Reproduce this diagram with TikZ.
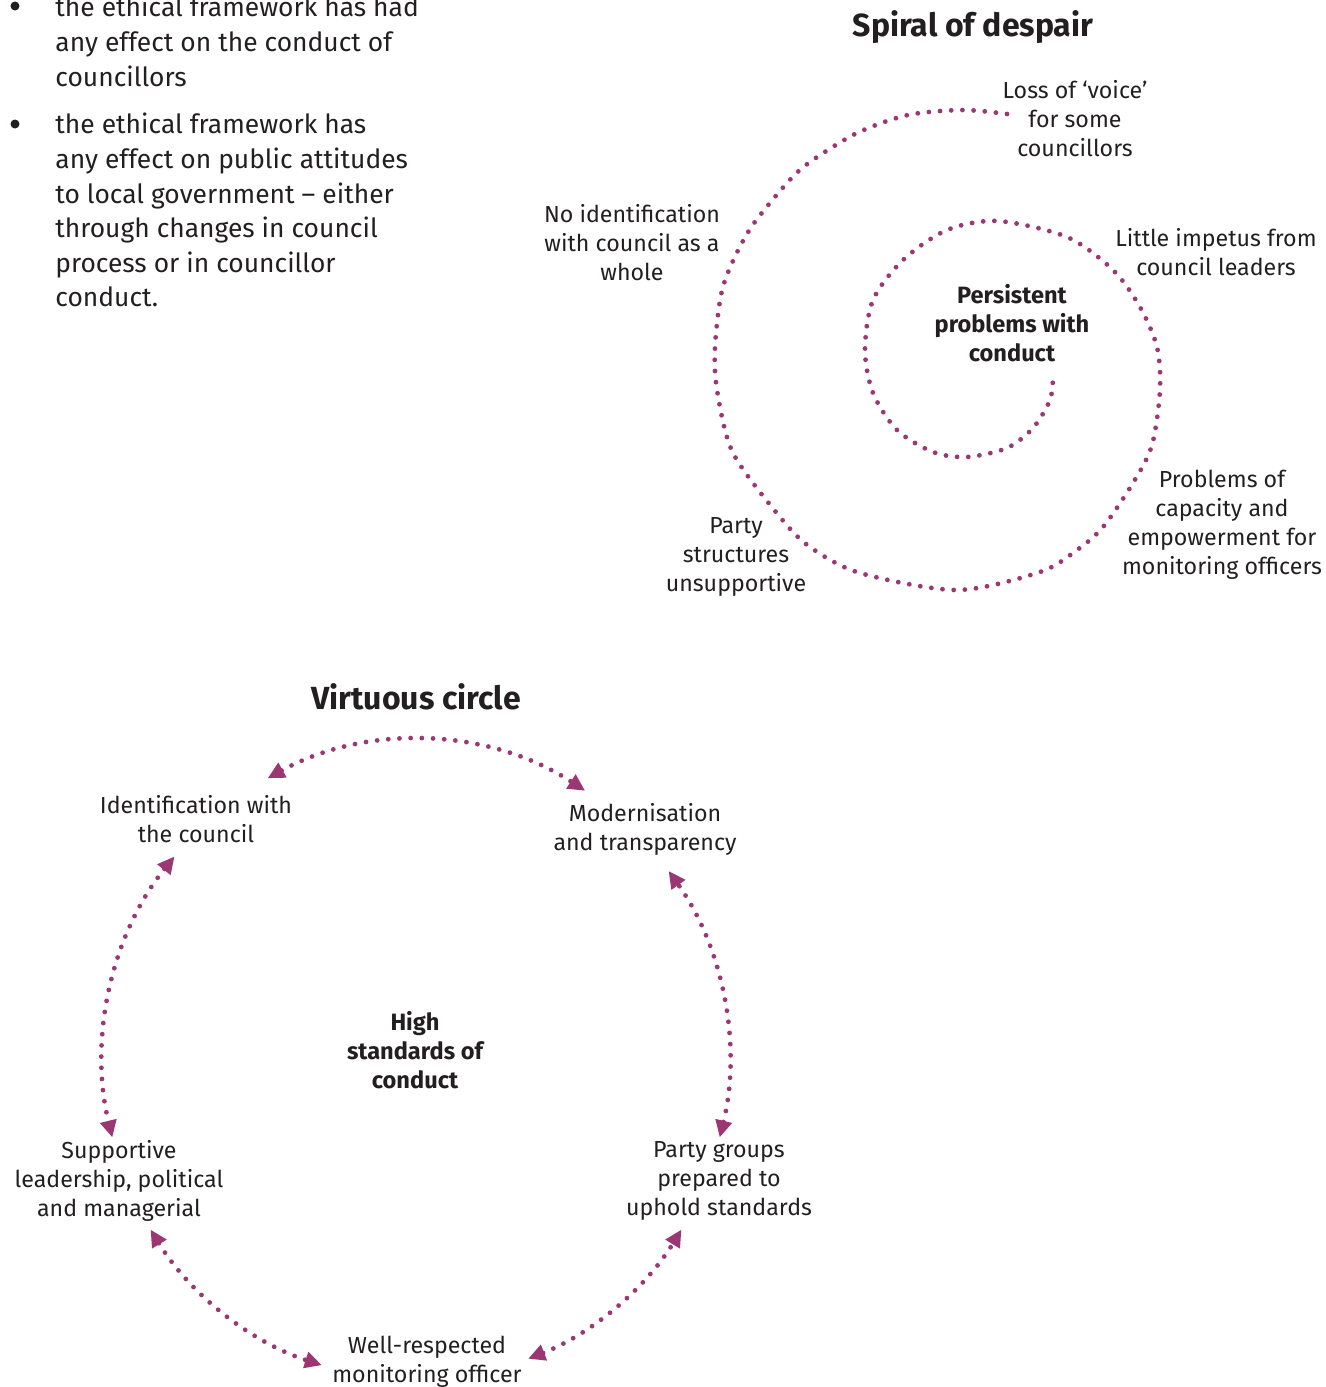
\documentclass[tikz,border=0pt]{standalone}
\usepackage{fontspec}
\setmainfont{Fira Sans}
\usepackage{xcolor}
\usepackage{tikz}
\usetikzlibrary{arrows.meta,calc}

\definecolor{plum}{RGB}{155,55,115}
\definecolor{ink}{RGB}{35,31,32}

\begin{document}
\begin{tikzpicture}[
  x=0.5pt, y=0.5pt,
  lbl/.style={align=center, text=ink, font=\fontsize{11.6}{14.5}\selectfont, inner sep=0pt},
  core/.style={lbl, font=\fontsize{11.8}{14.5}\selectfont\bfseries},
  heading/.style={text=ink, font=\fontsize{16}{18}\selectfont\bfseries, inner sep=0pt},
  para/.style={align=left, text=ink, font=\fontsize{13.2}{17.3}\selectfont, anchor=north west, inner sep=0pt},
  dots/.style={draw=plum, line width=2.4pt, line cap=round, dash pattern=on 0pt off 5.6pt},
  link/.style={dots, {Triangle[length=8.5pt,width=8pt,fill=plum]}-{Triangle[length=8.5pt,width=8pt,fill=plum]}}
]
\useasboundingbox (0,0) rectangle (1326,-1387);

% Bullet points
\fill[ink] (15,-6) circle[radius=4.5];
\fill[ink] (15,-124) circle[radius=4.5];
\node[para] (pointA) at (55,4) {the ethical framework has had\\any effect on the conduct of\\councillors};
\node[para] (pointB) at (55,-113) {the ethical framework has\\any effect on public attitudes\\to local government -- either\\through changes in council\\process or in councillor\\conduct.};

% Spiral of despair
\node[heading] (spiralT) at (973,-27) {Spiral of despair};
\node[lbl] (voice) at (1075,-119) {Loss of ‘voice’\\for some\\councillors};
\node[lbl] (ident) at (632,-243) {No identification\\with council as a\\whole};
\node[lbl] (impetus) at (1216,-252) {Little impetus from\\council leaders};
\node[core] (persist) at (1012,-323) {Persistent\\problems with\\conduct};
\node[lbl] (capacity) at (1222,-525) {Problems of\\capacity and\\empowerment for\\monitoring officers};
\node[lbl] (party) at (736,-557) {Party\\structures\\unsupportive};

\draw[dots] plot[smooth] coordinates {
  (1007,-114) (963,-110) (908,-115) (857,-133) (810,-162) (787,-183)
  (752,-226) (732,-263) (721,-295) (715,-347) (717,-390) (733,-453)
  (780,-517) (810,-547) (860,-573) (957,-590) (1040,-572) (1077,-550)
  (1103,-527) (1133,-483) (1152,-445) (1160,-390) (1157,-347) (1140,-307)
  (1113,-270) (1067,-237) (998,-221) (947,-230) (903,-260) (873,-300)
  (865,-350) (873,-393) (897,-430) (933,-452) (967,-457) (1007,-448)
  (1033,-428) (1050,-400) (1053,-377)};

% Virtuous circle
\node[heading] (virtT) at (416,-697) {Virtuous circle};
\node[lbl] (council) at (196,-819) {Identification with\\the council};
\node[lbl] (modern) at (645,-829) {Modernisation\\and transparency};
\node[core] (high) at (415,-1050) {High\\standards of\\conduct};
\node[lbl] (leader) at (119,-1181) {Supportive\\leadership, political\\and managerial};
\node[lbl] (groups) at (719,-1181) {Party groups\\prepared to\\uphold standards};
\node[lbl] (officer) at (427,-1362) {Well-respected\\monitoring officer};

\coordinate (ring) at (416,-1060);
\coordinate (council-a) at ($(ring)+(118.3:313 and 320)$);
\coordinate (council-b) at ($(ring)+(140.5:313 and 320)$);
\coordinate (leader-a) at ($(ring)+(212:313 and 320)$);
\coordinate (officer-b) at ($(ring)+(291:313 and 320)$);
\coordinate (groups-a) at ($(ring)+(346:313 and 320)$);

% Arrows
\draw[link] (council-a) arc[start angle=118.3, end angle=57.3, x radius=313, y radius=320];
\draw[link] (council-b) arc[start angle=140.5, end angle=194, x radius=313, y radius=320];
\draw[link] (leader-a) arc[start angle=212, end angle=252.5, x radius=313, y radius=320];
\draw[link] (officer-b) arc[start angle=291, end angle=328, x radius=313, y radius=320];
\draw[link] (groups-a) arc[start angle=346, end angle=396.2, x radius=313, y radius=320];

\end{tikzpicture}
\end{document}
